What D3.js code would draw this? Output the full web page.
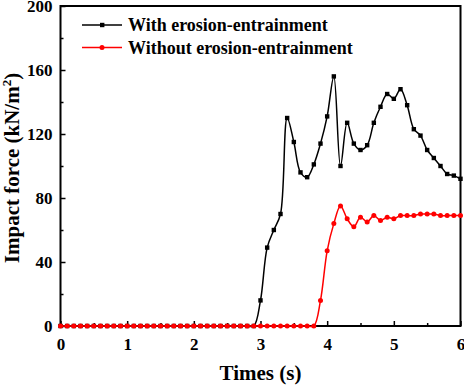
<!DOCTYPE html>
<html>
<head>
<meta charset="utf-8">
<script src="https://cdn.jsdelivr.net/npm/d3@7"></script>
<style>
  body { margin: 0; background: #fff; }
  text { font-family: "Liberation Serif", "Times New Roman", serif; font-weight: bold; }
</style>
</head>
<body>
<svg id="chart"></svg>
<script>
const times = [0.0, 0.1, 0.2, 0.3, 0.4, 0.5, 0.6, 0.7, 0.8, 0.9,
  1.0, 1.1, 1.2, 1.3, 1.4, 1.5, 1.6, 1.7, 1.8, 1.9,
  2.0, 2.1, 2.2, 2.3, 2.4, 2.5, 2.6, 2.7, 2.8, 2.9,
  3.0, 3.1, 3.2, 3.3, 3.4, 3.5, 3.6, 3.7, 3.8, 3.9,
  4.0, 4.1, 4.2, 4.3, 4.4, 4.5, 4.6, 4.7, 4.8, 4.9,
  5.0, 5.1, 5.2, 5.3, 5.4, 5.5, 5.6, 5.7, 5.8, 5.9, 6.0];

const withErosion = [0, 0, 0, 0, 0, 0, 0, 0, 0, 0,
  0, 0, 0, 0, 0, 0, 0, 0, 0, 0,
  0, 0, 0, 0, 0, 0, 0, 0, 0, 0,
  16, 49, 60, 70, 130, 115, 96, 93, 101, 114,
  131, 156, 100, 127, 114, 110, 113, 127, 137, 145,
  142, 148, 138, 123, 119, 110, 105, 100, 95, 94, 92];

const withoutErosion = [0, 0, 0, 0, 0, 0, 0, 0, 0, 0,
  0, 0, 0, 0, 0, 0, 0, 0, 0, 0,
  0, 0, 0, 0, 0, 0, 0, 0, 0, 0,
  0, 0, 0, 0, 0, 0, 0, 0, 0, 16,
  47, 64, 75, 67, 62, 68, 65, 69, 66, 68,
  67, 69, 69, 69, 70, 70, 70, 69, 69, 69, 69];

const seriesNames = ["With erosion-entrainment", "Without erosion-entrainment"];
const xTicks = [0, 1, 2, 3, 4, 5, 6];
const yTicks = [0, 40, 80, 120, 160, 200];

const width = 464, height = 385;
const margin = { left: 60.5, right: 3.5, top: 6, bottom: 59 };

const svg = d3.select("#chart")
  .attr("width", width)
  .attr("height", height);

const x = d3.scaleLinear().domain([0, 6]).range([margin.left, width - margin.right]);
const y = d3.scaleLinear().domain([0, 200]).range([height - margin.bottom, margin.top]);

// minor ticks
const xMinor = d3.range(0.5, 6, 1);
const yMinor = d3.range(20, 200, 40);

svg.append("g")
  .attr("transform", `translate(0,${y(0)})`)
  .call(d3.axisBottom(x).tickValues(xMinor).tickSize(-3).tickFormat(""))
  .call(g => g.select(".domain").remove())
  .selectAll("line").attr("stroke-width", 1.5);

svg.append("g")
  .attr("transform", `translate(${x(0)},0)`)
  .call(d3.axisLeft(y).tickValues(yMinor).tickSize(-3).tickFormat(""))
  .call(g => g.select(".domain").remove())
  .selectAll("line").attr("stroke-width", 1.5);

const xAxis = svg.append("g")
  .attr("transform", `translate(0,${y(0)})`)
  .call(d3.axisBottom(x).tickValues(xTicks).tickSize(-5).tickPadding(12).tickFormat(d3.format("d")));
xAxis.select(".domain").remove();
xAxis.selectAll("line").attr("stroke-width", 1.5);
xAxis.selectAll("text").attr("font-size", 17).attr("fill", "#000");

const yAxis = svg.append("g")
  .attr("transform", `translate(${x(0)},0)`)
  .call(d3.axisLeft(y).tickValues(yTicks).tickSize(-5).tickPadding(8).tickFormat(d3.format("d")));
yAxis.select(".domain").remove();
yAxis.selectAll("line").attr("stroke-width", 1.5);
yAxis.selectAll("text").attr("font-size", 17).attr("fill", "#000");

// frame
svg.append("rect")
  .attr("x", x(0)).attr("y", y(200))
  .attr("width", x(6) - x(0)).attr("height", y(0) - y(200))
  .attr("fill", "none").attr("stroke", "#000").attr("stroke-width", 2);

const line = d3.line()
  .x((d, i) => x(times[i]))
  .y(d => y(d))
  .curve(d3.curveCatmullRom.alpha(0.5));

// black series
svg.append("path")
  .datum(withErosion)
  .attr("d", line)
  .attr("fill", "none").attr("stroke", "#000").attr("stroke-width", 1.5);
svg.selectAll("rect.blk")
  .data(withErosion)
  .enter().append("rect")
  .attr("class", "blk")
  .attr("x", (d, i) => x(times[i]) - 2.2)
  .attr("y", d => y(d) - 2.2)
  .attr("width", 4.4).attr("height", 4.4)
  .attr("fill", "#000");

// red series
svg.append("path")
  .datum(withoutErosion)
  .attr("d", line)
  .attr("fill", "none").attr("stroke", "#ff0000").attr("stroke-width", 1.5);
svg.selectAll("circle.red")
  .data(withoutErosion)
  .enter().append("circle")
  .attr("class", "red")
  .attr("cx", (d, i) => x(times[i]))
  .attr("cy", d => y(d))
  .attr("r", 2.5)
  .attr("fill", "#ff0000");

// legend
const legend = svg.append("g");
const legendY = [25, 47.5];
legend.append("line").attr("x1", 82).attr("x2", 122).attr("y1", legendY[0]).attr("y2", legendY[0])
  .attr("stroke", "#000").attr("stroke-width", 1.5);
legend.append("rect").attr("x", 100).attr("y", legendY[0] - 2.2).attr("width", 4.4).attr("height", 4.4).attr("fill", "#000");
legend.append("line").attr("x1", 82).attr("x2", 122).attr("y1", legendY[1]).attr("y2", legendY[1])
  .attr("stroke", "#ff0000").attr("stroke-width", 1.5);
legend.append("circle").attr("cx", 102).attr("cy", legendY[1]).attr("r", 2.5).attr("fill", "#ff0000");
seriesNames.forEach((name, i) => {
  legend.append("text")
    .attr("x", 128).attr("y", legendY[i] + 6)
    .attr("font-size", 18)
    .text(name);
});

// axis titles
svg.append("text")
  .attr("x", (x(0) + x(6)) / 2).attr("y", 380)
  .attr("text-anchor", "middle")
  .attr("font-size", 21)
  .text("Times (s)");

const yt = svg.append("text")
  .attr("transform", `translate(19,${(y(0) + y(200)) / 2 + 2}) rotate(-90)`)
  .attr("text-anchor", "middle")
  .attr("font-size", 21);
yt.append("tspan").text("Impact force (kN/m");
yt.append("tspan").attr("font-size", 13).attr("dy", -8).text("2");
yt.append("tspan").attr("dy", 8).text(")");
</script>
</body>
</html>
